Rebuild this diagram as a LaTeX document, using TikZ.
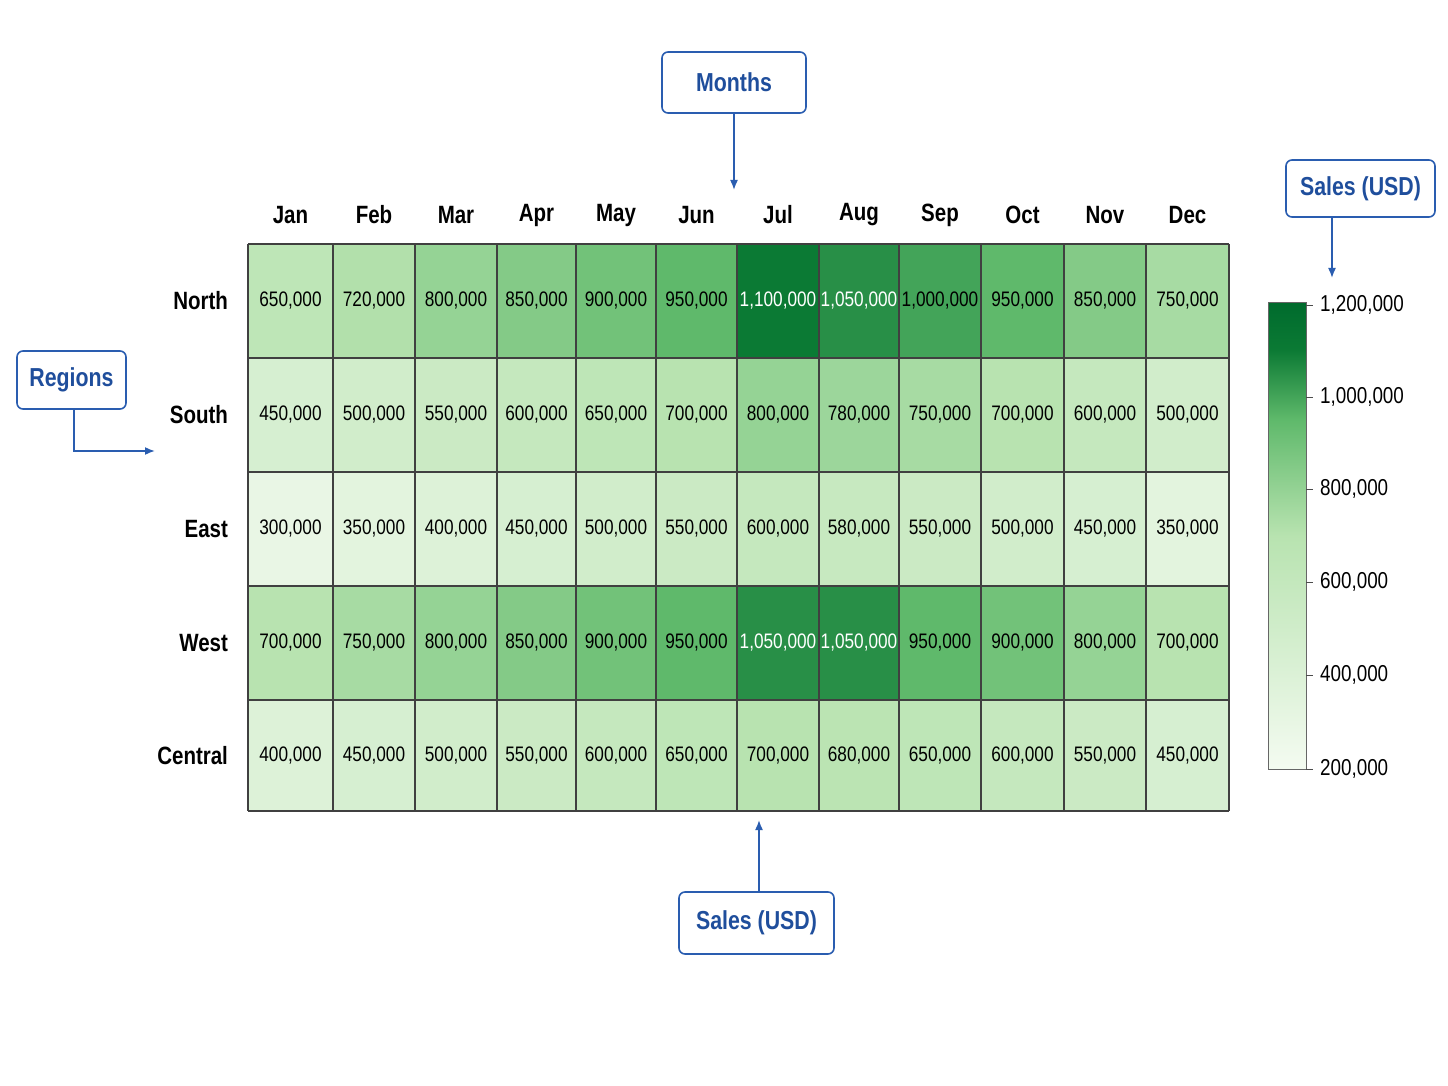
\documentclass[tikz,border=0pt]{standalone}
\usepackage{fontspec}
\usetikzlibrary{arrows.meta}
\setmainfont{Liberation Sans}[FakeStretch=0.82]
\definecolor{C0}{HTML}{F4FBF1}
\definecolor{C1}{HTML}{B8E3B0}
\definecolor{C2}{HTML}{5FB96B}
\definecolor{C3}{HTML}{0B7A34}
\definecolor{C4}{HTML}{006B2D}
\definecolor{blu}{HTML}{1F4E9C}
\definecolor{bbd}{HTML}{2A5DB0}
\pgfdeclareverticalshading{cbar}{100bp}{color(0bp)=(C0);color(25bp)=(C0);color(50bp)=(C1);color(62.5bp)=(C2);color(70bp)=(C3);color(75bp)=(C4);color(100bp)=(C4)}
\newcommand\setcc[1]{%
 \pgfmathsetmacro\tval{(#1-200)/1000}%
 \ifdim\tval pt<0.5pt \pgfmathtruncatemacro\pp{\tval/0.5*100}\colorlet{cc}{C1!\pp!C0}%
 \else\ifdim\tval pt<0.75pt \pgfmathtruncatemacro\pp{(\tval-0.5)/0.25*100}\colorlet{cc}{C2!\pp!C1}%
 \else\ifdim\tval pt<0.9pt \pgfmathtruncatemacro\pp{(\tval-0.75)/0.15*100}\colorlet{cc}{C3!\pp!C2}%
 \else \pgfmathtruncatemacro\pp{(\tval-0.9)/0.1*100}\colorlet{cc}{C4!\pp!C3}\fi\fi\fi}
\newcommand\fmtk[1]{%
 \pgfmathtruncatemacro\hi{#1/1000}\pgfmathtruncatemacro\lo{#1-1000*\hi}%
 \ifnum\hi>0 \hi,\ifnum\lo<10 00\lo\else\ifnum\lo<100 0\lo\else\lo\fi\fi,000\else\lo,000\fi}
\begin{document}
\begin{tikzpicture}[x=0.5pt,y=-0.5pt,
  val/.style={font=\fontsize{10.5}{12}\selectfont},
  hdr/.style={font=\bfseries\fontsize{12.5}{14}\selectfont},
  call/.style={draw=bbd,thick,rounded corners=3pt,fill=white,text=blu,font=\bfseries\fontsize{13}{15}\selectfont,inner sep=0pt},
  arr/.style={bbd,thick,-{Latex[length=5pt,width=4pt]}}]
\useasboundingbox (0,0) rectangle (1448,1086);
\def\xs{{248,333,415,497,576,656,737,819,899,981,1064,1146,1229}}
\def\ys{{244,358,472,586,700,811}}
\foreach \r/\rn/\vals in {0/North/{650,720,800,850,900,950,1100,1050,1000,950,850,750},
  1/South/{450,500,550,600,650,700,800,780,750,700,600,500},
  2/East/{300,350,400,450,500,550,600,580,550,500,450,350},
  3/West/{700,750,800,850,900,950,1050,1050,950,900,800,700},
  4/Central/{400,450,500,550,600,650,700,680,650,600,550,450}}{
  \pgfmathsetmacro\ya{\ys[\r]}\pgfmathsetmacro\yb{\ys[\r+1]}
  \node[hdr,anchor=east] (r\r) at (235,{(\ya+\yb)/2}) {\rn};
  \foreach \v [count=\c from 0] in \vals {
    \pgfmathsetmacro\xa{\xs[\c]}\pgfmathsetmacro\xb{\xs[\c+1]}
    \setcc{\v}
    \ifnum\v>1040 \def\tc{white}\else\def\tc{black}\fi
    \fill[cc] (\xa,\ya) rectangle (\xb,\yb);
    \node[val,text=\tc] (c\r-\c) at ({(\xa+\xb)/2},{(\ya+\yb)/2}) {\fmtk{\v}};
  }
}
\foreach \i in {0,...,12}{\pgfmathsetmacro\xa{\xs[\i]}\draw[black!75,line width=0.6pt] (\xa,244) -- (\xa,811);}
\foreach \i in {0,...,5}{\pgfmathsetmacro\ya{\ys[\i]}\draw[black!75,line width=0.6pt] (248,\ya) -- (1229,\ya);}
\foreach \m [count=\c from 0] in {Jan,Feb,Mar,Apr,May,Jun,Jul,Aug,Sep,Oct,Nov,Dec}{
  \pgfmathsetmacro\xa{\xs[\c]}\pgfmathsetmacro\xb{\xs[\c+1]}
  \node[hdr] (m\c) at ({(\xa+\xb)/2},215) {\m};}
% colour bar
\shade[shading=cbar] (1268,303) rectangle (1306,769);
\draw[black!60,line width=0.5pt] (1268,303) rectangle (1306,769);
\foreach \y/\l in {305/{1,200,000},397/{1,000,000},489/{800,000},582/{600,000},675/{400,000},769/{200,000}}{
  \draw[black!70] (1306,\y) -- (1313,\y);
  \node[val,anchor=west,font=\fontsize{11.5}{13}\selectfont] at (1313,\y) {\l};}
% callouts
\node[call,minimum width=72pt,minimum height=30.5pt] (months) at (734,82.5) {Months};
\coordinate (monthsT) at (734,190);
\draw[arr] (months.south) -- (monthsT);
\node[call,minimum width=74.5pt,minimum height=28.5pt] (salesR) at (1360.5,188.5) {Sales (USD)};
\coordinate (salesRT) at (1332,278);
\draw[arr] (1332,217) -- (salesRT);
\node[call,minimum width=54.5pt,minimum height=29pt] (regions) at (71.5,380) {Regions};
\coordinate (regT) at (155,451);
\draw[arr] (74,409) -- (74,451) -- (regT);
\node[call,minimum width=77.5pt,minimum height=31pt] (salesB) at (756.5,923) {Sales (USD)};
\coordinate (salesBT) at (759,820);
\draw[arr] (759,892) -- (salesBT);
\end{tikzpicture}
\end{document}
